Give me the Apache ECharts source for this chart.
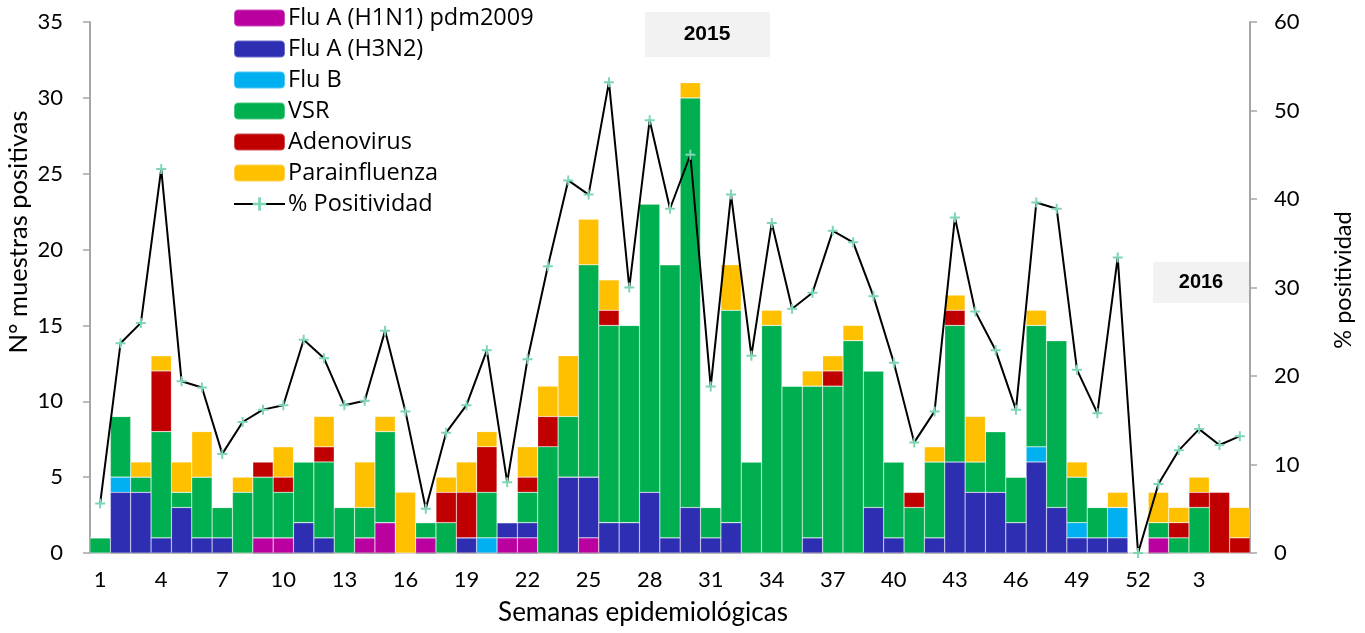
<!DOCTYPE html>
<html>
<head>
<meta charset="utf-8">
<title>Virus respiratorios 2015-2016</title>
<script src="https://cdn.jsdelivr.net/npm/echarts@6/dist/echarts.min.js"></script>
<style>
  html, body { margin: 0; padding: 0; background: #fff; }
  #main { width: 1365px; height: 633px; }
</style>
</head>
<body>
<div id="main"></div>
<script>
// semanas 1-52 de 2015 y 1-5 de 2016
const weeks = ['1','2','3','4','5','6','7','8','9','10','11','12','13','14','15','16','17','18','19','20',
  '21','22','23','24','25','26','27','28','29','30','31','32','33','34','35','36','37','38','39','40',
  '41','42','43','44','45','46','47','48','49','50','51','52','1','2','3','4','5']

const h1n1  = [0,0,0,0,0,0,0,0,1,1,0,0,0,1,2,0,1,0,0,0,1,1,0,0,1,0,0,0,0,0,0,0,0,0,0,0,0,0,0,0,0,0,0,0,0,0,0,0,0,0,0,0,1,0,0,0,0]
const h3n2  = [0,4,4,1,3,1,1,0,0,0,2,1,0,0,0,0,0,0,1,0,1,1,0,5,4,2,2,4,1,3,1,2,0,0,0,1,0,0,3,1,0,1,6,4,4,2,6,3,1,1,1,0,0,0,0,0,0]
const fluB  = [0,1,0,0,0,0,0,0,0,0,0,0,0,0,0,0,0,0,0,1,0,0,0,0,0,0,0,0,0,0,0,0,0,0,0,0,0,0,0,0,0,0,0,0,0,0,1,0,1,0,2,0,0,0,0,0,0]
const vsr   = [1,4,1,7,1,4,2,4,4,3,4,5,3,2,6,0,1,2,0,3,0,2,7,4,14,13,13,19,18,27,2,14,6,15,11,10,11,14,9,5,3,5,9,2,4,3,8,11,3,2,0,0,1,1,3,0,0]
const adeno = [0,0,0,4,0,0,0,0,1,1,0,1,0,0,0,0,0,2,3,3,0,1,2,0,0,1,0,0,0,0,0,0,0,0,0,0,1,0,0,0,1,0,1,0,0,0,0,0,0,0,0,0,0,1,1,4,1]
const para  = [0,0,1,1,2,3,0,1,0,2,0,2,0,3,1,4,0,1,2,1,0,2,2,4,3,2,0,0,0,1,0,3,0,1,0,1,1,1,0,0,0,1,1,3,0,0,1,0,1,0,1,0,2,1,1,0,2]
const positividad = [5.6,23.7,26.0,43.4,19.4,18.7,11.2,14.8,16.2,16.7,24.1,22.0,16.7,17.2,25.1,16.0,5.0,13.6,16.7,22.9,
  8.0,21.9,32.4,42.1,40.5,53.2,30.0,48.9,38.9,45.0,18.8,40.5,22.3,37.3,27.6,29.4,36.4,35.1,29.0,21.5,
  12.5,16.0,37.9,27.3,22.9,16.2,39.6,38.9,20.7,15.8,33.4,0,7.8,11.6,14.0,12.2,13.2]

const font = 'Lato'
const axisGray = '#a6a6a6'

function barSerie(name, data, color) {
    return {
        name: name,
        type: 'bar',
        stack: 'total',
        barCategoryGap: 0,
        data: data,
        itemStyle: { color: color, borderColor: 'rgba(255,255,255,0.3)', borderWidth: 0.6 },
        emphasis: { disabled: true }
    }
}

const chart = echarts.init(document.getElementById('main'))

const option = {
    animation: false,
    textStyle: { fontFamily: font },
    grid: { left: 90, right: 115, top: 22, bottom: 80, containLabel: false },
    legend: {
        orient: 'vertical',
        left: 228,
        top: 1,
        itemWidth: 51,
        itemHeight: 17,
        itemGap: 7,
        textStyle: { fontFamily: 'Open Sans', fontSize: 23.5, color: '#000', padding: [0, 0, 0, -2] },
        data: ['Flu A (H1N1) pdm2009', 'Flu A (H3N2)', 'Flu B', 'VSR', 'Adenovirus', 'Parainfluenza', '% Positividad']
    },
    xAxis: {
        type: 'category',
        data: weeks,
        boundaryGap: true,
        axisLine: { lineStyle: { color: axisGray, width: 2 } },
        axisTick: { interval: 0, length: 8, lineStyle: { color: axisGray, width: 1.5 } },
        axisLabel: { interval: 2, margin: 16, fontSize: 22, color: '#000', fontFamily: font }
    },
    yAxis: [{
        type: 'value',
        min: 0,
        max: 35,
        interval: 5,
        splitLine: { show: false },
        axisLine: { show: true, lineStyle: { color: axisGray, width: 2 } },
        axisTick: { show: true, length: 7, lineStyle: { color: axisGray, width: 1.5 } },
        axisLabel: { margin: 27, fontSize: 22, color: '#000', fontFamily: font }
    }, {
        type: 'value',
        min: 0,
        max: 60,
        interval: 10,
        position: 'right',
        splitLine: { show: false },
        axisLine: { show: true, lineStyle: { color: axisGray, width: 2 } },
        axisTick: { show: true, length: 7, lineStyle: { color: axisGray, width: 1.5 } },
        axisLabel: { margin: 24, fontSize: 22, color: '#000', fontFamily: font }
    }],
    series: [
        barSerie('Flu A (H1N1) pdm2009', h1n1, '#bb00a0'),
        barSerie('Flu A (H3N2)', h3n2, '#2e2eb2'),
        barSerie('Flu B', fluB, '#00b0f0'),
        barSerie('VSR', vsr, '#00b050'),
        barSerie('Adenovirus', adeno, '#c00000'),
        barSerie('Parainfluenza', para, '#ffc000'),
        {
            name: '% Positividad',
            type: 'line',
            yAxisIndex: 1,
            data: positividad,
            symbol: 'path://M4 0h2v4h4v2H6v4H4V6H0V4h4z',
            symbolSize: 10,
            itemStyle: { color: '#7fd6b4' },
            lineStyle: { color: '#000', width: 2 },
            emphasis: { disabled: true },
            z: 5
        }
    ],
    graphic: [
        { type: 'rect', left: 645, top: 12, shape: { width: 125, height: 45 }, style: { fill: '#f2f2f2' } },
        { type: 'text', x: 707, y: 34, style: { text: '2015', fontFamily: 'Liberation Sans', fontWeight: 'bold', fontSize: 21, fill: '#000', align: 'center', verticalAlign: 'middle' } },
        { type: 'rect', left: 1153, top: 262, shape: { width: 97, height: 41 }, style: { fill: '#f2f2f2' } },
        { type: 'text', x: 1201, y: 282, style: { text: '2016', fontFamily: 'Liberation Sans', fontWeight: 'bold', fontSize: 20, fill: '#000', align: 'center', verticalAlign: 'middle' } },
        { type: 'text', x: 19, y: 232, rotation: Math.PI / 2, style: { text: 'N° muestras positivas', fontFamily: font, fontSize: 25.5, fill: '#000', align: 'center', verticalAlign: 'middle' } },
        { type: 'text', x: 1343, y: 280, rotation: Math.PI / 2, style: { text: '% positividad', fontFamily: font, fontSize: 23.5, fill: '#000', align: 'center', verticalAlign: 'middle' } },
        { type: 'text', x: 643, y: 613, style: { text: 'Semanas epidemiológicas', fontFamily: font, fontSize: 26, fill: '#000', align: 'center', verticalAlign: 'middle' } }
    ]
}

chart.setOption(option)
</script>
</body>
</html>
